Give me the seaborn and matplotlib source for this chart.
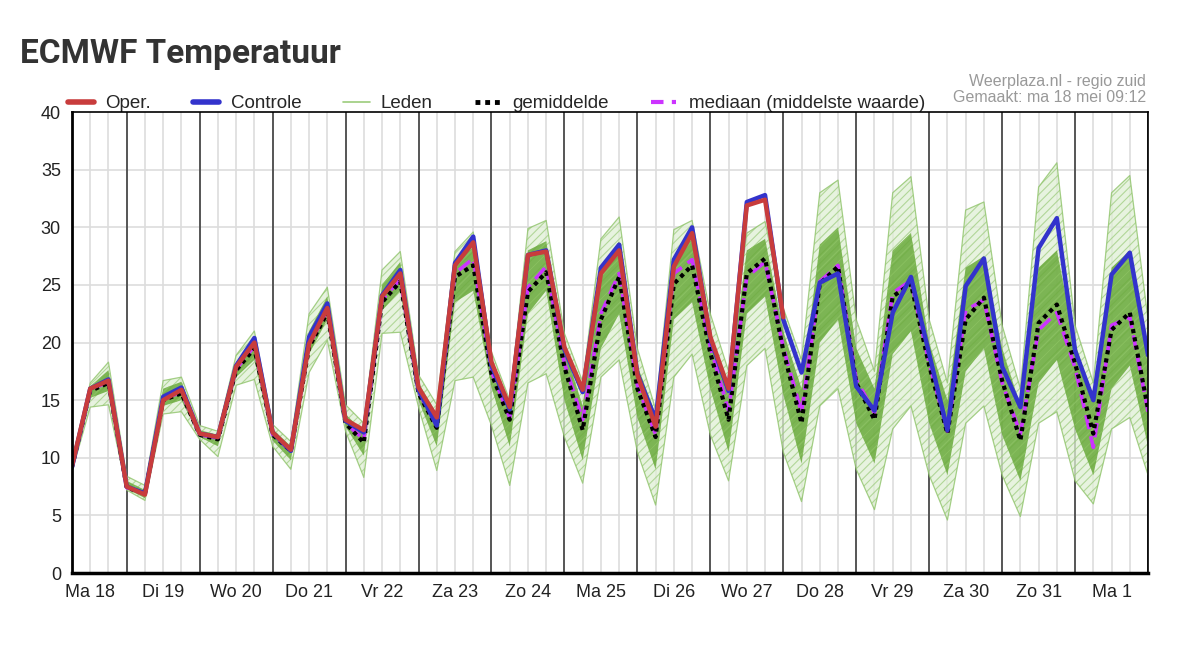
import numpy as np
import pandas as pd
import seaborn as sns
import matplotlib.pyplot as plt
from matplotlib.lines import Line2D

# tijdstappen van 6 uur, vanaf ma 18 06:00 (uren sinds ma 18 00:00)
uren = np.arange(6, 361, 6)
dag_labels = ["Ma 18", "Di 19", "Wo 20", "Do 21", "Vr 22", "Za 23", "Zo 24", "Ma 25",
              "Di 26", "Wo 27", "Do 28", "Vr 29", "Za 30", "Zo 31", "Ma 1"]

oper = [9.3, 16.0, 16.7, 7.5, 6.8, 15.0, 15.9, 12.1, 11.8, 17.9, 20.0, 12.2, 10.7, 19.9, 23.0,
        13.3, 12.4, 24.0, 26.0, 16.1, 13.5, 26.7, 28.7, 18.3, 14.4, 27.6, 27.9, 19.6, 15.9, 26.0,
        28.0, 17.2, 12.7, 26.6, 29.5, 20.5, 16.0, 31.9, 32.4, 22.2]
controle = [9.2, 16.0, 16.8, 7.5, 6.9, 15.3, 16.1, 12.1, 11.8, 18.0, 20.4, 12.2, 10.6, 20.5, 23.4,
            13.2, 12.2, 24.1, 26.3, 15.9, 12.8, 26.9, 29.2, 18.0, 14.2, 27.6, 28.0, 19.4, 15.7, 26.5,
            28.5, 17.3, 13.3, 27.2, 30.0, 20.3, 15.8, 32.2, 32.8, 22.0, 17.4, 25.2, 26.0, 16.2, 14.1,
            22.6, 25.7, 19.0, 12.4, 24.9, 27.3, 17.9, 14.4, 28.2, 30.8, 19.3, 15.0, 25.9, 27.8, 18.9]
gemiddelde = [9.2, 15.8, 16.5, 7.4, 6.9, 15.0, 15.6, 12.0, 11.6, 17.6, 19.5, 12.0, 10.6, 19.6, 22.6,
              13.0, 11.3, 23.5, 25.3, 15.6, 12.6, 25.7, 26.7, 17.3, 13.3, 24.4, 26.1, 17.9, 12.4, 22.0,
              25.7, 16.0, 11.8, 25.1, 26.7, 19.1, 13.3, 26.0, 27.3, 19.3, 13.0, 25.1, 26.6, 16.5, 13.3,
              24.0, 25.1, 18.0, 12.1, 22.0, 23.9, 16.7, 11.5, 21.7, 23.3, 18.2, 12.1, 21.1, 22.6, 14.2]
mediaan = [9.2, 15.9, 16.6, 7.4, 6.9, 15.1, 15.7, 12.0, 11.7, 17.7, 19.7, 12.0, 10.6, 19.8, 22.8,
           13.0, 11.6, 23.7, 25.5, 15.7, 12.8, 26.0, 27.3, 17.5, 13.5, 24.8, 26.6, 18.2, 13.3, 22.5,
           26.0, 16.3, 12.0, 26.0, 27.2, 19.6, 14.1, 25.7, 27.0, 19.6, 13.9, 25.3, 26.7, 16.8, 13.9,
           24.3, 25.4, 18.2, 12.3, 22.8, 23.7, 16.5, 12.1, 21.1, 22.6, 17.8, 10.9, 21.5, 22.2, 14.0]

# leden: buitenste omhullende en dichte kern
leden_laag = [8.8, 14.4, 14.6, 7.2, 6.3, 13.8, 14.0, 11.6, 10.1, 16.3, 16.8, 11.0, 9.0, 17.4, 20.2,
              12.3, 8.3, 20.8, 20.9, 14.4, 8.9, 16.7, 17.0, 12.8, 7.6, 16.5, 17.3, 11.8, 7.8, 17.0,
              18.5, 10.5, 5.9, 17.0, 19.0, 12.0, 8.0, 18.0, 19.5, 10.5, 6.2, 14.5, 16.0, 9.0, 5.5,
              12.5, 14.5, 8.5, 4.6, 13.0, 14.5, 8.5, 4.9, 13.0, 14.0, 8.0, 6.0, 12.5, 13.5, 8.5]
leden_hoog = [9.7, 16.5, 18.3, 8.4, 7.6, 16.7, 17.0, 12.8, 12.3, 18.9, 21.0, 12.9, 11.4, 22.5, 24.8,
              14.6, 13.0, 26.3, 27.9, 17.2, 14.6, 27.9, 29.6, 19.2, 15.0, 29.9, 30.6, 20.8, 16.6, 29.0,
              30.9, 19.5, 14.2, 29.8, 30.6, 22.5, 17.5, 29.5, 30.5, 23.0, 18.5, 33.0, 34.1, 22.0, 17.5,
              33.0, 34.4, 22.0, 16.5, 31.5, 32.2, 21.5, 16.0, 33.5, 35.6, 21.5, 16.5, 33.0, 34.5, 22.0]
kern_laag = [9.0, 15.2, 15.8, 7.3, 6.5, 14.5, 15.0, 11.8, 11.0, 17.0, 18.5, 11.5, 9.8, 19.0, 22.0,
             12.7, 10.2, 22.8, 24.5, 15.0, 11.0, 23.5, 24.5, 16.1, 11.0, 22.5, 24.5, 15.0, 9.8, 19.5,
             22.5, 13.5, 9.0, 22.0, 23.5, 16.0, 10.5, 22.5, 24.0, 15.5, 9.5, 20.0, 22.0, 13.0, 9.5,
             19.0, 21.0, 13.0, 8.5, 17.5, 19.5, 12.0, 8.0, 16.5, 18.5, 12.5, 8.5, 16.0, 18.0, 11.0]
kern_hoog = [9.5, 16.2, 17.6, 8.0, 7.2, 16.0, 16.6, 12.4, 12.0, 18.3, 20.5, 12.5, 11.0, 21.0, 24.0,
             13.8, 12.2, 25.0, 27.0, 16.5, 13.8, 27.0, 28.3, 18.6, 14.8, 28.0, 28.8, 19.5, 14.5, 26.5,
             28.8, 18.0, 13.8, 27.5, 29.0, 21.0, 16.0, 28.0, 29.0, 21.0, 16.0, 28.5, 30.0, 19.5, 16.0,
             28.0, 29.5, 20.0, 15.0, 26.5, 27.5, 19.5, 14.5, 26.5, 28.0, 20.0, 15.0, 26.5, 28.0, 18.0]

df = pd.DataFrame({"uur": uren, "controle": controle, "gemiddelde": gemiddelde, "mediaan": mediaan})
df_oper = pd.DataFrame({"uur": uren[:len(oper)], "oper": oper})

sns.set_style("white")
plt.rcParams["font.family"] = ["Liberation Sans", "DejaVu Sans"]
plt.rcParams["hatch.linewidth"] = 0.8

fig = plt.figure(figsize=(12, 6.46), dpi=100)
ax = fig.add_axes([0.06, 0.113, 0.8967, 0.7134])

# raster
for u in uren:
    if u % 24 == 0:
        ax.axvline(u, color="#555555", lw=1.4, zorder=1)
    else:
        ax.axvline(u, color="#dddddd", lw=1.2, zorder=0)
for t in range(5, 40, 5):
    ax.axhline(t, color="#dddddd", lw=1.2, zorder=0)

# leden
ax.fill_between(uren, leden_laag, leden_hoog, facecolor="#e0efd5", edgecolor="#9fcd80",
                hatch="////", alpha=0.75, lw=0, zorder=2)
ax.fill_between(uren, kern_laag, kern_hoog, facecolor="#6aaa3c", edgecolor="#8cc263",
                hatch="///", alpha=0.85, lw=0, zorder=2)
ax.plot(uren, leden_laag, color="#8fc46a", lw=0.9, alpha=0.8, zorder=2)
ax.plot(uren, leden_hoog, color="#8fc46a", lw=0.9, alpha=0.8, zorder=2)

sns.lineplot(data=df, x="uur", y="mediaan", color="#cc33ff", lw=2.6,
             linestyle=(0, (4, 2)), ax=ax, zorder=3)
sns.lineplot(data=df, x="uur", y="gemiddelde", color="black", lw=3,
             linestyle=(0, (1, 1)), ax=ax, zorder=4)
sns.lineplot(data=df, x="uur", y="controle", color="#3333cc", lw=3.2, ax=ax, zorder=5)
sns.lineplot(data=df_oper, x="uur", y="oper", color="#c83c3c", lw=3.2, ax=ax, zorder=6)

ax.set_xlim(6, 360)
ax.set_ylim(0, 40)
ax.set_xticks(uren)
ax.set_xticklabels([dag_labels[(u - 12) // 24] if u % 24 == 12 else "" for u in uren])
ax.set_yticks(range(0, 41, 5))
ax.set_xlabel("")
ax.set_ylabel("")
ax.tick_params(axis="both", labelsize=13, colors="#222222", length=5, width=1.2, pad=3)
for s in ["top", "right"]:
    ax.spines[s].set_linewidth(1.2)
ax.spines["left"].set_linewidth(2)
ax.spines["bottom"].set_linewidth(2.5)
for s in ax.spines.values():
    s.set_color("black")
    s.set_zorder(10)

handles = [
    Line2D([], [], color="#c83c3c", lw=4),
    Line2D([], [], color="#3333cc", lw=4),
    Line2D([], [], color="#9ccc7c", lw=1.2),
    Line2D([], [], color="black", lw=3.5, linestyle=(0, (1, 1))),
    Line2D([], [], color="#cc33ff", lw=3, linestyle=(0, (3, 2, 1, 2))),
]
labels = ["Oper.", "Controle", "Leden", "gemiddelde", "mediaan (middelste waarde)"]
ax.legend(handles, labels, loc="lower left", bbox_to_anchor=(-0.004, 1.0), ncol=5,
          frameon=False, fontsize=13.5, handlelength=1.4, handletextpad=0.6,
          columnspacing=2.25, borderaxespad=0, borderpad=0)

fig.text(0.0167, 0.9025, "ECMWF Temperatuur", fontsize=24, fontweight="bold",
         color="#333333", family=["Roboto", "DejaVu Sans"], va="baseline")
fig.text(0.955, 0.8746, "Weerplaza.nl - regio zuid", fontsize=11.5, color="#999999",
         ha="right", va="center")
fig.text(0.955, 0.8483, "Gemaakt: ma 18 mei 09:12", fontsize=11.5, color="#999999",
         ha="right", va="center")

fig.savefig("out.png", dpi=100)
